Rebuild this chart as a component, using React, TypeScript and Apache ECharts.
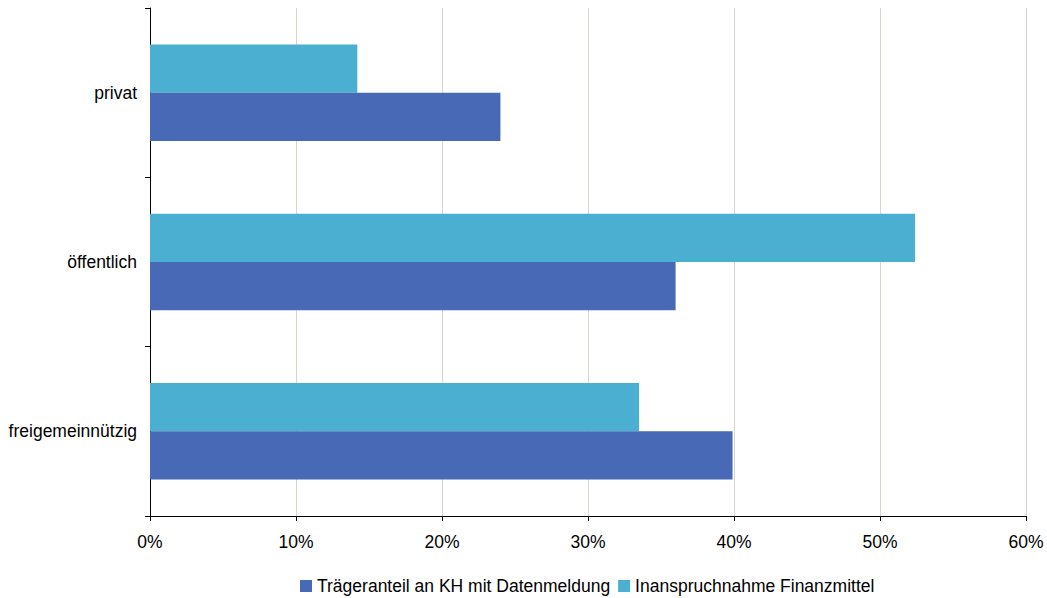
import React, { useEffect, useRef } from "react";
import * as echarts from "echarts";

const categories = ["freigemeinnützig", "öffentlich", "privat"];
const seriesNames = ["Trägeranteil an KH mit Datenmeldung", "Inanspruchnahme Finanzmittel"];
const traegeranteil = [39.9, 36.0, 24.0];
const inanspruchnahme = [33.5, 52.4, 14.2];

export default function App() {
  const ref = useRef<HTMLDivElement>(null);
  useEffect(() => {
    document.body.style.margin = "0";
    const chart = echarts.init(ref.current!, null, { renderer: "svg" });
    const font = "'Liberation Sans', Arial, sans-serif";
    chart.setOption({
      animation: false,
      textStyle: { fontFamily: font },
      grid: { left: 150, right: 21, top: 8, bottom: 82, containLabel: false },
      legend: {
        top: 577,
        left: 300,
        padding: 0,
        itemWidth: 12,
        itemHeight: 12,
        itemGap: 8,
        icon: "rect",
        textStyle: { fontSize: 17.5, color: "#000", fontFamily: font, padding: [0, 0, 0, 0] },
        data: seriesNames,
      },
      xAxis: {
        type: "value",
        min: 0,
        max: 60,
        interval: 10,
        axisLine: { show: true, lineStyle: { color: "#000", width: 1 } },
        axisTick: { show: true, length: 5, lineStyle: { color: "#000" } },
        axisLabel: { formatter: "{value}%", fontSize: 17.5, color: "#000", margin: 17, fontFamily: font },
        splitLine: { show: true, lineStyle: { color: "#D8D6CC", width: 1 } },
      },
      yAxis: {
        type: "category",
        data: categories,
        axisLine: { show: true, lineStyle: { color: "#000", width: 1 } },
        axisTick: { show: true, length: 5, alignWithLabel: false, lineStyle: { color: "#000" } },
        axisLabel: { fontSize: 17.5, color: "#000", margin: 13, fontFamily: font },
        splitLine: { show: false },
      },
      series: [
        {
          name: seriesNames[1],
          type: "bar",
          data: inanspruchnahme,
          itemStyle: { color: "#4AAFD0" },
          barCategoryGap: "43%",
          barGap: "0%",
        },
        {
          name: seriesNames[0],
          type: "bar",
          data: traegeranteil,
          itemStyle: { color: "#4769B6" },
          barCategoryGap: "43%",
          barGap: "0%",
        },
      ],
    });
    return () => chart.dispose();
  }, []);
  return <div ref={ref} style={{ width: 1047, height: 598 }} />;
}
